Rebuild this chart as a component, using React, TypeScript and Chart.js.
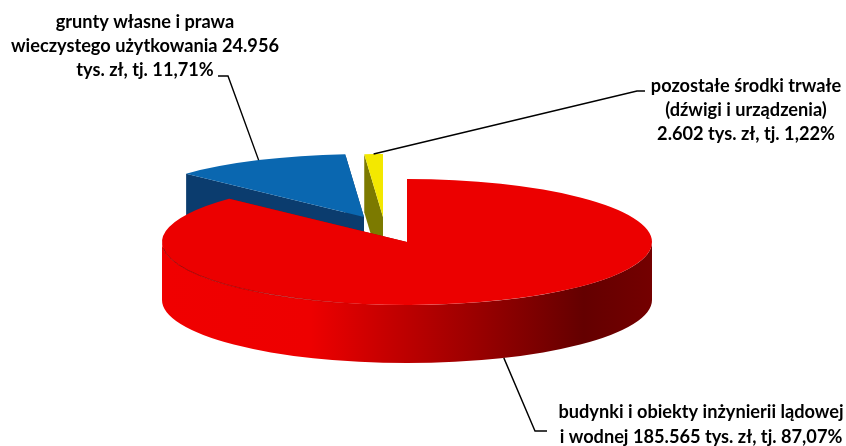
import { useEffect, useRef } from "react";
import Chart from "chart.js/auto";

// Fixed-asset structure, thousands of PLN.
const categories = [
  "budynki i obiekty inżynierii lądowej i wodnej",
  "grunty własne i prawa wieczystego użytkowania",
  "pozostałe środki trwałe (dźwigi i urządzenia)",
];
const values = [185565, 24956, 2602];
const faceColors = ["#EC0000", "#0A67B0", "#F3E800"];
const wallColors = ["#A80000", "#0B3C6E", "#7C7A00"];
const rimStops: [number, string][] = [
  [0, "#F00000"],
  [0.3, "#EE0000"],
  [0.45, "#C80000"],
  [0.65, "#980000"],
  [0.86, "#640000"],
  [1, "#740000"],
];
const labelLines = [
  ["budynki i obiekty inżynierii lądowej", "i wodnej 185.565 tys. zł, tj. 87,07%"],
  ["grunty własne i prawa", "wieczystego użytkowania 24.956", "tys. zł, tj. 11,71%"],
  ["pozostałe środki trwałe", "(dźwigi i urządzenia)", "2.602 tys. zł, tj. 1,22%"],
];

// Projection of the flat pie onto the tilted disc.
const CENTER_X = 407;
const CENTER_Y = 242;
const RADIUS_X = 245;
const RADIUS_Y = 63;
const DEPTH = 58;

// Screen displacement of the pulled-out slices.
const explode = [
  { x: 0, y: 0 },
  { x: -43, y: -25 },
  { x: -24, y: -25 },
];
// Slices are painted back to front.
const paintOrder = [2, 1, 0];

// Label block placement (first baseline) and the leader-line bends.
const labelBlocks = [
  { x: 701, y: 418, lineHeight: 25, elbow: [[535, 431], [547, 431]], onWall: true },
  { x: 145, y: 28, lineHeight: 24.2, elbow: [[228, 76], [218, 76]], onWall: false },
  { x: 746, y: 92, lineHeight: 24.2, elbow: [[637, 91], [645, 91]], onWall: false },
];

const pie3d = {
  id: "pie3d",
  beforeDatasetsDraw(chart: any) {
    const ctx: CanvasRenderingContext2D = chart.ctx;
    const arcs = chart.getDatasetMeta(0).data;
    const rimFill = ctx.createLinearGradient(CENTER_X - RADIUS_X, 0, CENTER_X + RADIUS_X, 0);
    rimStops.forEach(([at, color]) => rimFill.addColorStop(at, color));

    for (const i of paintOrder) {
      const arc = arcs[i];
      const cx = CENTER_X + explode[i].x;
      const cy = CENTER_Y + explode[i].y;
      const { startAngle, endAngle, outerRadius } = arc;

      // Flat sides left by the cut, extruded downwards.
      ctx.fillStyle = wallColors[i];
      for (const a of [startAngle, endAngle]) {
        const rx = cx + Math.cos(a) * RADIUS_X;
        const ry = cy + Math.sin(a) * RADIUS_Y;
        ctx.beginPath();
        ctx.moveTo(cx, cy);
        ctx.lineTo(rx, ry);
        ctx.lineTo(rx, ry + DEPTH);
        ctx.lineTo(cx, cy + DEPTH);
        ctx.closePath();
        ctx.fill();
      }

      // Curved outer wall: only the part facing the viewer.
      const from = Math.max(startAngle, 0);
      const to = Math.min(endAngle, Math.PI);
      if (to > from) {
        ctx.beginPath();
        ctx.ellipse(cx, cy, RADIUS_X, RADIUS_Y, 0, from, to);
        ctx.ellipse(cx, cy + DEPTH, RADIUS_X, RADIUS_Y, 0, to, from, true);
        ctx.closePath();
        ctx.fillStyle = rimFill;
        ctx.fill();
      }

      // Top face: the library's own arc, squashed onto the disc.
      ctx.save();
      ctx.translate(cx, cy);
      ctx.scale(RADIUS_X / outerRadius, RADIUS_Y / outerRadius);
      ctx.translate(-arc.x, -arc.y);
      arc.draw(ctx);
      ctx.restore();

      // Soft dark seam between the face and the wall on the lit side.
      if (to > from) {
        const seam = ctx.createLinearGradient(CENTER_X - RADIUS_X, 0, CENTER_X - 40, 0);
        seam.addColorStop(0, "rgba(130,0,0,0.75)");
        seam.addColorStop(0.75, "rgba(150,0,0,0.5)");
        seam.addColorStop(1, "rgba(170,0,0,0)");
        ctx.beginPath();
        ctx.ellipse(cx, cy, RADIUS_X, RADIUS_Y, 0, Math.PI * 0.5, Math.PI * 0.97);
        ctx.strokeStyle = seam;
        ctx.lineWidth = 1;
        ctx.stroke();
      }
    }
    return false;
  },
  afterDraw(chart: any) {
    const ctx: CanvasRenderingContext2D = chart.ctx;
    const arcs = chart.getDatasetMeta(0).data;
    ctx.save();

    // Leader lines start on each slice's rim at its middle angle.
    ctx.strokeStyle = "#000000";
    ctx.lineWidth = 1.4;
    labelBlocks.forEach((block, i) => {
      const mid = (arcs[i].startAngle + arcs[i].endAngle) / 2;
      const sx = CENTER_X + explode[i].x + Math.cos(mid) * RADIUS_X;
      const sy = CENTER_Y + explode[i].y + Math.sin(mid) * RADIUS_Y + (block.onWall ? DEPTH : 0);
      ctx.beginPath();
      ctx.moveTo(sx, sy);
      block.elbow.forEach(([x, y]) => ctx.lineTo(x, y));
      ctx.stroke();
    });

    ctx.fillStyle = "#000000";
    ctx.font = "bold 18.2px Lato";
    ctx.textAlign = "center";
    ctx.textBaseline = "alphabetic";
    labelLines.forEach((lines, i) => {
      const block = labelBlocks[i];
      lines.forEach((line, n) => ctx.fillText(line, block.x, block.y + n * block.lineHeight));
    });
    ctx.restore();
  },
};

export default function App() {
  const ref = useRef<HTMLCanvasElement>(null);
  useEffect(() => {
    const chart = new Chart(ref.current!, {
      type: "pie",
      data: {
        labels: categories,
        datasets: [{ data: values, backgroundColor: faceColors, borderWidth: 0 }],
      },
      options: {
        responsive: false,
        animation: false,
        events: [],
        plugins: { legend: { display: false }, tooltip: { enabled: false } },
      },
      plugins: [pie3d],
    });
    return () => chart.destroy();
  }, []);
  return (
    <canvas
      ref={ref}
      width={846}
      height={446}
      style={{ position: "fixed", left: 0, top: 0, display: "block", background: "#ffffff" }}
    />
  );
}
